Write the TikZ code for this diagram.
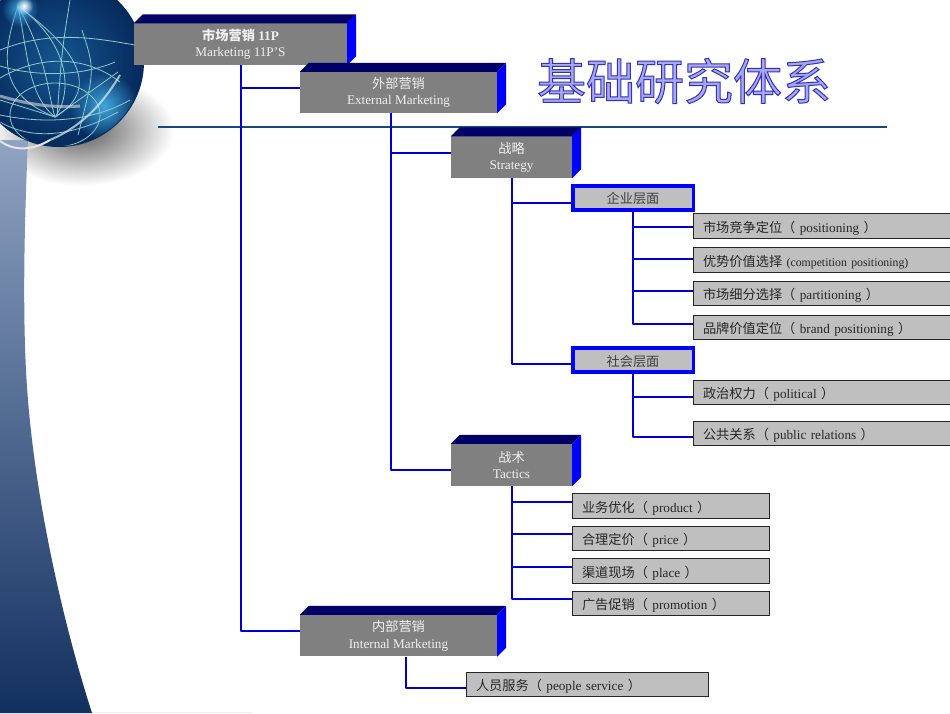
\documentclass[tikz,border=0pt]{standalone}
\usepackage{fontspec}
\usetikzlibrary{fadings}
\setmainfont{Liberation Serif}
\newfontfamily\cjk{Noto Sans CJK SC}
\definecolor{linkblue}{HTML}{0000CC}
\definecolor{topface}{HTML}{000066}
\definecolor{sideface}{HTML}{0000FF}
\definecolor{rulecol}{HTML}{1B4680}
\definecolor{gridcol}{HTML}{8CCBCB}
\definecolor{bandtop}{HTML}{8FA3C2}
\definecolor{bandmid}{HTML}{44659B}
\definecolor{bandlow}{HTML}{12305F}
\definecolor{globein}{HTML}{15568F}
\definecolor{globeout}{HTML}{06295C}
\definecolor{glowcol}{HTML}{3FA8E0}
\tikzfading[name=glowfade, inner color=transparent!0, outer color=transparent!100]
\newcommand{\cn}[1]{{\cjk #1}}
\newcommand{\boxfaces}[1]{
  \fill[topface] (#1.north west) -- ([shift={(9,-9)}]#1.north west) -- ([shift={(9,-9)}]#1.north east) -- (#1.north east) -- cycle;
  \fill[sideface] (#1.north east) -- ([shift={(9,-9)}]#1.north east) -- ([shift={(9,-9)}]#1.south east) -- (#1.south east) -- cycle;
}
\tikzstyle{frontbox} = [fill=gray, text=white!88!gray, inner sep=0pt, align=center, font=\fontsize{13.2}{16.5}\selectfont, execute at begin node={\mbox{}\\[-12.5pt]}]
\tikzstyle{levelbox} = [draw=sideface, line width=3.5pt, fill=gray!50, inner sep=0pt, minimum width=120.5pt, minimum height=24pt, text height=12pt, text depth=0pt, text=black!75, font=\fontsize{13.2}{15}\selectfont]
\tikzstyle{leafbox} = [draw=black!85, line width=1pt, fill=gray!50, inner sep=0pt, minimum height=24.5pt, text height=12pt, text depth=0pt, align=left, text=black!85, font=\fontsize{13.2}{15}\selectfont]
\tikzstyle{link} = [draw=linkblue, line width=2pt, line join=round]
\tikzstyle{gridline} = [draw=gridcol, line width=.8pt]

\begin{document}
\begin{tikzpicture}[x=1pt, y=-1pt]
  \useasboundingbox (0,0) rectangle (950,713);

  \shade[inner color=black!65, outer color=white] (82,130) ellipse (92 and 56);
  \begin{scope}
    \clip (0,140) -- (28,140) .. controls (24,230) and (22,330) .. (28,400) .. controls (36,500) and (62,620) .. (92,713) -- (0,713) -- cycle;
    \shade[top color=bandtop, middle color=bandmid, bottom color=bandlow] (0,140) rectangle (100,713);
  \end{scope}
  \fill[black!8] (92,711.5) rectangle (252,713);

  \shade[inner color=globein, outer color=globeout] (59,62) circle (85);
  \begin{scope}
    \clip (59,62) circle (84);
    \fill[glowcol, path fading=glowfade] (104,106) circle (34);
    \foreach \mx/\my in {0/60, 28/55, 48/60, 72/45, 92/60} {
      \draw[gridline] (18,6) .. controls (\mx,\my) and (\mx,95) .. (55,117);
    }
    \draw[gridline] (70,0) .. controls (62,50) .. (57,117);
    \draw[gridline] (82,30) .. controls (95,70) .. (78,135);
    \draw[gridline] (0,50) .. controls (50,30) and (95,38) .. (135,45);
    \draw[gridline] (0,66) .. controls (40,78) and (85,75) .. (115,62);
    \draw[gridline] (0,78) .. controls (40,55) and (85,55) .. (120,82);
    \draw[gridline] (55,115) ellipse (45 and 32);
    \draw[gridline] (0,115) .. controls (50,125) and (95,120) .. (130,100);
    \draw[gridline] (0,122) .. controls (40,145) and (85,130) .. (118,112);
    \draw[gridline] (0,100) -- (55,117) -- (118,72);
    \draw[draw=white!75!gridcol, line width=2pt, opacity=.7] (50,140) .. controls (85,125) and (105,100) .. (120,75);
    \draw[draw=white!70!gray, line width=3pt, opacity=.6] (0,96) .. controls (30,105) and (55,108) .. (80,106);
  \end{scope}
  \draw[draw=white!80!gray, line width=2pt] (0,141) .. controls (12,150) and (30,152) .. (50,140);
  \fill[glowcol, path fading=glowfade] (20,9) circle (18);
  \fill[white, path fading=glowfade] (24,6) circle (9);

  \draw[draw=rulecol, line width=2.6pt] (158,127) -- (887,127);

  \node[inner sep=0pt, font=\fontsize{49}{52}\cjk] (title) at (684,81) {\special{pdf:code 2 Tr 1 w .2 .2 .72 RG .66 .66 .95 rg}基础研究体系\special{pdf:code 0 Tr}};

  \node[frontbox, minimum width=213pt, minimum height=41.5pt] (market) at (240.5,44.2) {\textbf{\cn{市场营销} 11P}\\Marketing 11P’S};
  \boxfaces{market}
  \node[frontbox, minimum width=197pt, minimum height=41pt] (external) at (398.5,92.5) {\cn{外部营销}\\External Marketing};
  \boxfaces{external}
  \node[frontbox, minimum width=121pt, minimum height=41.5pt] (strategy) at (511.5,157.2) {\cn{战略}\\Strategy};
  \boxfaces{strategy}
  \node[frontbox, minimum width=121pt, minimum height=42pt] (tactics) at (511.5,465) {\cn{战术}\\Tactics};
  \boxfaces{tactics}
  \node[frontbox, minimum width=197pt, minimum height=41.5pt] (internal) at (398.5,635.7) {\cn{内部营销}\\Internal Marketing};
  \boxfaces{internal}

  \node[levelbox] (corporate) at (633,197.8) {\cn{企业层面}};
  \node[levelbox] (social) at (633,360) {\cn{社会层面}};

  \node[leafbox, minimum width=257pt, text width=237pt] (positioning) at (821.5,226) {\cn{市场竞争定位（} positioning \cn{）}};
  \node[leafbox, minimum width=257pt, text width=237pt] (competition) at (821.5,260) {\cn{优势价值选择} {\fontsize{11.8}{13}\selectfont (competition positioning)}};
  \node[leafbox, minimum width=257pt, text width=237pt] (partitioning) at (821.5,293.5) {\cn{市场细分选择（} partitioning \cn{）}};
  \node[leafbox, minimum width=257pt, text width=237pt] (brand) at (821.5,327.5) {\cn{品牌价值定位（} brand positioning \cn{）}};
  \node[leafbox, minimum width=257pt, text width=237pt] (political) at (821.5,392.5) {\cn{政治权力（} political \cn{）}};
  \node[leafbox, minimum width=257pt, text width=237pt] (public) at (821.5,433.5) {\cn{公共关系（} public relations \cn{）}};

  \node[leafbox, minimum width=197pt, text width=177pt] (product) at (670.5,506) {\cn{业务优化（} product \cn{）}};
  \node[leafbox, minimum width=197pt, text width=177pt] (price) at (670.5,538.5) {\cn{合理定价（} price \cn{）}};
  \node[leafbox, minimum width=197pt, text width=177pt] (place) at (670.5,571) {\cn{渠道现场（} place \cn{）}};
  \node[leafbox, minimum width=197pt, text width=177pt] (promotion) at (670.5,603.5) {\cn{广告促销（} promotion \cn{）}};

  \node[leafbox, minimum width=242pt, text width=222pt] (people) at (587,684.5) {\cn{人员服务（} people service \cn{）}};

  \draw[link] (market.south) |- ([yshift=4.5pt]internal.west);
  \draw[link] (market.south) |- ([yshift=4.5pt]external.west);
  \draw[link] ([xshift=-7.5pt]external.south) |- ([yshift=-4.5pt]tactics.west);
  \draw[link] ([xshift=-7.5pt]external.south) |- ([yshift=4pt]strategy.west);
  \draw[link] (strategy.south) |- ([yshift=-3.5pt]social.west);
  \draw[link] (strategy.south) |- ([yshift=-5.5pt]corporate.west);

  \foreach \leaf/\dy in {brand/4, partitioning/2.5, competition/1.5, positioning/-.5} {
    \draw[link] (corporate.south) |- ([yshift=\dy pt]\leaf.west);
  }
  \foreach \leaf/\dy in {public/-3.5, political/-4.5} {
    \draw[link] (social.south) |- ([yshift=\dy pt]\leaf.west);
  }
  \foreach \leaf in {promotion, place, price, product} {
    \draw[link] (tactics.south) |- ([yshift=4.5pt]\leaf.west);
  }
  \draw[link] ([xshift=7.5pt]internal.south) |- ([yshift=-3.5pt]people.west);
\end{tikzpicture}
\end{document}
